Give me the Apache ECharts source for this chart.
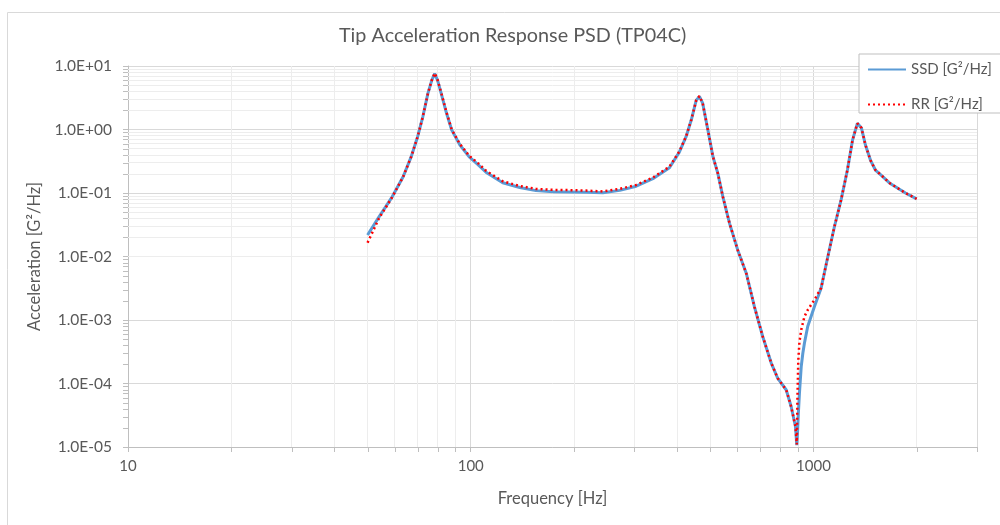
<!DOCTYPE html>
<html><head><meta charset="utf-8">
<script src="https://cdn.jsdelivr.net/npm/echarts@6/dist/echarts.min.js"></script>
<style>html,body{margin:0;padding:0;background:#fff}#c{width:1000px;height:525px}</style>
</head><body><div id="c"></div>
<script>
const freqHz = [50, 54, 59, 63.5, 67, 70, 72.5, 75, 77, 78.5, 80, 82, 85, 88, 93, 99, 105, 111, 124, 139,
  155, 174, 194, 217, 243, 272, 304, 340, 380, 406, 425, 440, 455, 465, 475, 492, 509, 526, 544, 569,
  601, 637, 673, 711, 753, 787, 833, 861, 886, 894, 898, 903, 910, 921, 931, 941, 962, 1006, 1053, 1101,
  1151, 1204, 1256, 1300, 1343, 1380, 1418, 1466, 1516, 1578, 1666, 1758, 1855, 2000];
const ssdPsd = [0.0218, 0.042, 0.087, 0.18, 0.37, 0.77, 1.6, 3.7, 6.0, 7.6, 6.0, 3.7, 1.8, 0.98, 0.57, 0.37, 0.28, 0.21, 0.145, 0.122,
  0.109, 0.105, 0.104, 0.103, 0.101, 0.11, 0.128, 0.168, 0.25, 0.44, 0.77, 1.41, 2.9, 3.3, 2.6, 0.98, 0.373, 0.204, 0.0875, 0.0333,
  0.0127, 0.0054, 0.0016, 5.5e-4, 2.1e-4, 1.2e-4, 7.9e-5, 4.3e-5, 2.1e-5, 1.07e-5, 1.6e-5, 3.2e-5, 7.0e-5, 1.84e-4, 3.0e-4, 4.3e-4, 7.9e-4, 1.62e-3, 3.2e-3, 0.0099,
  0.0294, 0.078, 0.23, 0.68, 1.25, 1.06, 0.57, 0.33, 0.23, 0.19, 0.144, 0.12, 0.1, 0.081];
const rrPsd = [0.0165, 0.040, 0.086, 0.18, 0.37, 0.77, 1.6, 3.7, 6.0, 7.7, 6.1, 3.8, 1.85, 1.0, 0.59, 0.385, 0.295, 0.222, 0.153, 0.129,
  0.116, 0.112, 0.111, 0.109, 0.106, 0.116, 0.134, 0.175, 0.26, 0.45, 0.78, 1.42, 2.9, 3.35, 2.6, 0.98, 0.373, 0.204, 0.0875, 0.0333,
  0.0127, 0.0054, 0.0016, 5.5e-4, 2.1e-4, 1.2e-4, 7.9e-5, 4.3e-5, 2.1e-5, 1.1e-5, 6e-5, 2.3e-4, 4.5e-4, 7.0e-4, 8.9e-4, 1.13e-3, 1.44e-3, 2.07e-3, 3.2e-3, 0.0099,
  0.0294, 0.078, 0.23, 0.68, 1.25, 1.06, 0.57, 0.33, 0.23, 0.19, 0.144, 0.12, 0.1, 0.081];
const xTicks = [10, 100, 1000];
const xTickLabels = ['10', '100', '1000'];
const yTicks = [1e-5, 1e-4, 1e-3, 1e-2, 1e-1, 1, 10];
const yTickLabels = ['1.0E-05', '1.0E-04', '1.0E-03', '1.0E-02', '1.0E-01', '1.0E+00', '1.0E+01'];
const seriesNames = ['SSD [G²/Hz]', 'RR [G²/Hz]'];
const titleText = 'Tip Acceleration Response PSD (TP04C)';
const xName = 'Frequency [Hz]';
const yName = 'Acceleration [G²/Hz]';

function lookup(v, ticks, labels) {
  for (let i = 0; i < ticks.length; i++) {
    if (Math.abs(Math.log10(v) - Math.log10(ticks[i])) < 1e-6) return labels[i];
  }
  return '';
}
const xMinor = [], yMinor = [];
for (let d = 10; d < 3000; d *= 10) for (let k = 2; k <= 9; k++) { const v = d * k; if (v < 3000) xMinor.push(v); }
for (let e = -5; e < 1; e++) for (let k = 2; k <= 9; k++) yMinor.push(k * Math.pow(10, e));

const TXT = '#595959', AX = '#bfbfbf';
const chart = echarts.init(document.getElementById('c'), null, {renderer: 'canvas'});
chart.setOption({
  animation: false,
  textStyle: {fontFamily: 'Lato'},
  title: {text: titleText, left: 334, top: 21, textStyle: {fontSize: 19.8, fontWeight: 'normal', color: TXT, fontFamily: 'Lato'}},
  grid: {left: 128, right: 23, top: 66, bottom: 78},
  legend: {
    left: 859, top: 54, orient: 'vertical', padding: [8, 10, 1, 8], itemGap: 20, itemWidth: 38, itemHeight: 14,
    backgroundColor: '#fff', borderColor: AX, borderWidth: 1,
    itemStyle: {opacity: 0},
    textStyle: {fontSize: 15, color: TXT, fontFamily: 'Lato'},
    data: seriesNames
  },
  xAxis: {
    type: 'log', logBase: 10, min: 10, max: 3000,
    name: xName, nameLocation: 'middle', nameGap: 43, nameTextStyle: {fontSize: 16.5, color: TXT, fontFamily: 'Lato'},
    axisLine: {show: true, lineStyle: {color: AX}},
    axisTick: {show: true, length: 5, lineStyle: {color: AX}},
    axisLabel: {formatter: v => lookup(v, xTicks, xTickLabels), fontSize: 15, color: TXT, margin: 12, fontFamily: 'Lato'},
    splitLine: {show: true, lineStyle: {color: '#d9d9d9'}}
  },
  yAxis: {
    type: 'log', logBase: 10, min: 1e-5, max: 10,
    name: yName, nameLocation: 'middle', nameRotate: 90, nameGap: 78, nameTextStyle: {fontSize: 16.5, color: TXT, fontFamily: 'Lato'},
    axisLine: {show: true, lineStyle: {color: AX}},
    axisTick: {show: true, length: 5, lineStyle: {color: AX}},
    axisLabel: {formatter: v => lookup(v, yTicks, yTickLabels), fontSize: 15.5, color: TXT, margin: 16, fontFamily: 'Lato'},
    splitLine: {show: true, lineStyle: {color: '#d9d9d9'}}
  },
  series: [
    {
      type: 'line', name: '_minorgrid', data: [], silent: true, z: 1,
      markLine: {
        silent: true, z: 1, symbol: ['none', 'none'], animation: false, label: {show: false},
        lineStyle: {color: '#ededed', width: 1, type: 'solid'}, emphasis: {disabled: true},
        data: xMinor.map(v => ({xAxis: v})).concat(yMinor.map(v => ({yAxis: v})))
      }
    },
    {
      type: 'line', name: seriesNames[0], data: freqHz.map((f, i) => [f, ssdPsd[i]]),
      symbol: 'none', showSymbol: false, z: 3,
      lineStyle: {color: '#5b9bd5', width: 3}, itemStyle: {color: '#5b9bd5'}
    },
    {
      type: 'line', name: seriesNames[1], data: freqHz.map((f, i) => [f, rrPsd[i]]),
      symbol: 'none', showSymbol: false, z: 4,
      lineStyle: {color: '#ff0000', width: 2.5, type: [2, 3]}, itemStyle: {color: '#ff0000'}
    }
  ]
});

const g = [];
const x0 = chart.convertToPixel({xAxisIndex: 0}, 10);
const y0 = chart.convertToPixel({yAxisIndex: 0}, 1e-5);
yMinor.forEach(v => {
  const y = Math.round(chart.convertToPixel({yAxisIndex: 0}, v)) + 0.5;
  g.push({type: 'line', silent: true, z: 10, shape: {x1: x0 - 5, y1: y, x2: x0, y2: y}, style: {stroke: AX, lineWidth: 1}});
});
xMinor.forEach(v => {
  const x = Math.round(chart.convertToPixel({xAxisIndex: 0}, v)) + 0.5;
  g.push({type: 'line', silent: true, z: 10, shape: {x1: x, y1: y0, x2: x, y2: y0 + 5}, style: {stroke: AX, lineWidth: 1}});
});
g.push({type: 'rect', silent: true, z: -1, shape: {x: 7.5, y: 12.5, width: 1000, height: 530}, style: {fill: 'none', stroke: '#d9d9d9', lineWidth: 1}});
chart.setOption({graphic: g});
</script>
</body></html>
